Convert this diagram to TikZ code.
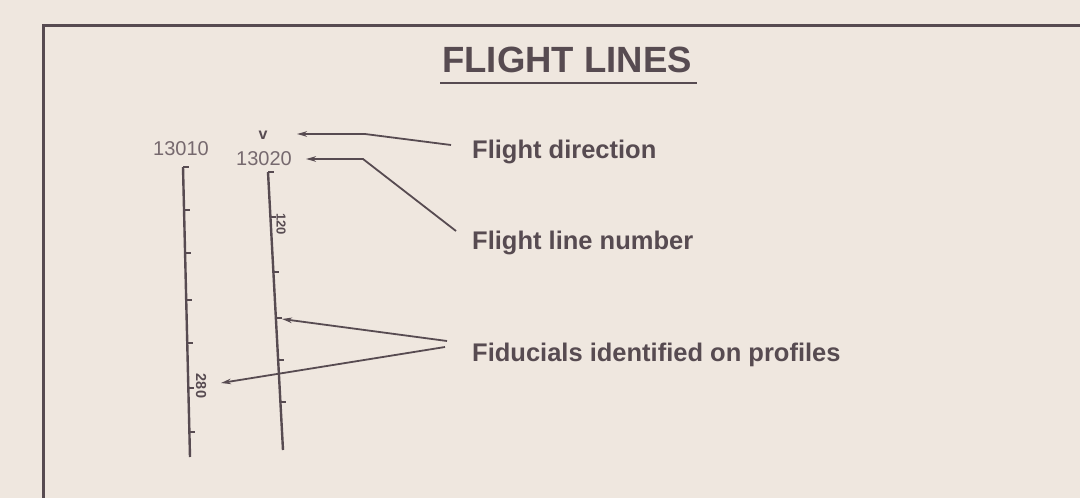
\documentclass[tikz,border=0pt]{standalone}
\usepackage{fontspec}
\setmainfont{Liberation Sans}
\usetikzlibrary{calc,arrows.meta}
\definecolor{bg}{HTML}{EFE7DF}
\definecolor{ink}{HTML}{574B51}
\definecolor{numink}{HTML}{76696E}
\begin{document}
\begin{tikzpicture}[x=1pt,y=-1pt,
  titlestyle/.style={text=ink,inner sep=0pt,font=\fontsize{36.5}{40}\selectfont\bfseries},
  lab/.style={text=ink,inner sep=0pt,font=\fontsize{25.5}{30}\selectfont\bfseries},
  num/.style={text=numink,inner sep=0pt,font=\fontsize{20}{24}\selectfont},
  fid/.style={text=ink,inner sep=0pt,font=\fontsize{13}{15}\selectfont\bfseries},
  fl/.style={draw=ink,line width=2.4pt},
  tk/.style={draw=ink,line width=1.8pt},
  arr/.style={draw=ink,line width=1.8pt,-{Stealth[length=10pt,width=5.5pt]}}]
\fill[bg] (0,0) rectangle (1080,498);
\useasboundingbox (0,0) rectangle (1080,498);
% frame
\draw[ink,line width=3pt] (43,498) -- (43,25) -- (1080,25);
% title
\node[titlestyle,anchor=base] (title) at (567,72) {FLIGHT LINES};
\draw[ink,line width=2.6pt] (440,83) -- (697,83);
% flight line 13010
\coordinate (A1) at (183,167);
\coordinate (A2) at (190,457);
\draw[fl] (A1) -- (A2);
\foreach \t in {0,0.148,0.297,0.459,0.607,0.762,0.914}
  \draw[tk] ($(A1)!\t!(A2)$) -- ++(6,0);
% flight line 13020
\coordinate (B1) at (268,172);
\coordinate (B2) at (283,450);
\draw[fl] (B1) -- (B2);
\foreach \t in {0,0.162,0.360,0.525,0.676,0.827}
  \draw[tk] ($(B1)!\t!(B2)$) -- ++(6,0);
% numbers
\node[num,anchor=base] (n1) at (181,155) {13010};
\node[num,anchor=base] (n2) at (264,165) {13020};
\node[text=ink,inner sep=0pt,font=\fontsize{16}{18}\selectfont\bfseries] (v) at (263,135) {v};
\node[fid,rotate=-90] (f120) at (281,224) {120};
\node[fid,rotate=-90,font=\fontsize{14.5}{16}\selectfont\bfseries] (f280) at (201,386) {280};
% labels
\node[lab,anchor=base west] (ldir) at (472,158) {Flight direction};
\node[lab,anchor=base west] (lnum) at (472,249) {Flight line number};
\node[lab,anchor=base west] (lfid) at (472,361) {Fiducials identified on profiles};
% connector ends
\coordinate (sdir) at (451,145);
\coordinate (tdir) at (297,134);
\coordinate (snum) at (456,231);
\coordinate (tnum) at (306,159);
\coordinate (sfa) at (447,341);
\coordinate (tfa) at (282,319);
\coordinate (sfb) at (445,347);
\coordinate (tfb) at (221,383);
% connectors
\draw[arr] (sdir) -- (365,134) -- (tdir);
\draw[arr] (snum) -- (363,159) -- (tnum);
\draw[arr] (sfa) -- (tfa);
\draw[arr] (sfb) -- (tfb);
\end{tikzpicture}
\end{document}
